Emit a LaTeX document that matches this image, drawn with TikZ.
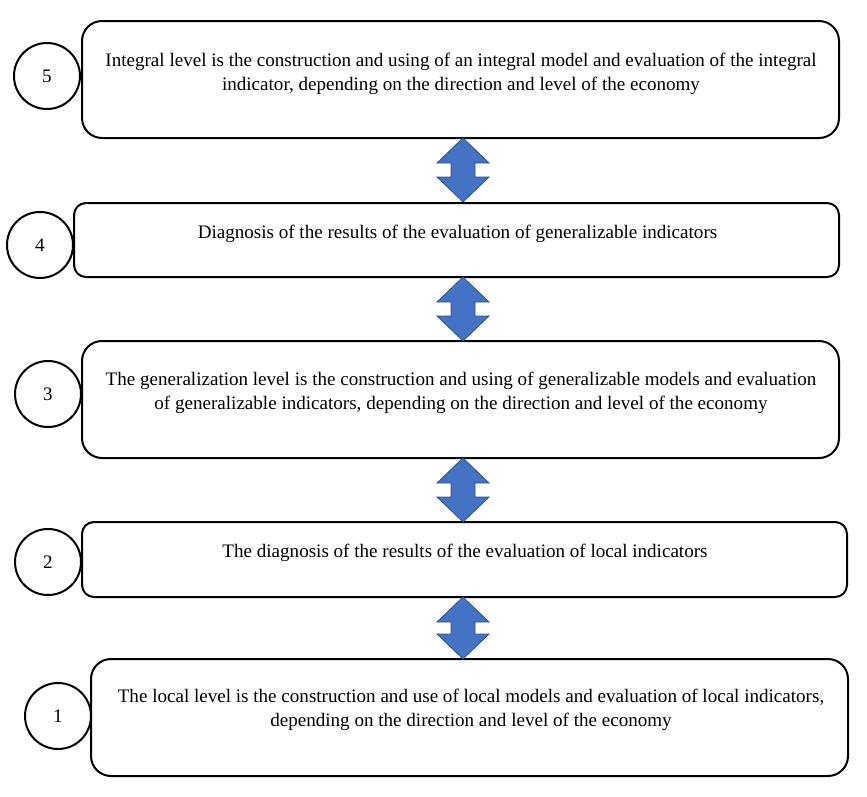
\documentclass[tikz,border=0pt]{standalone}
\usepackage{fontspec}
\setmainfont{Liberation Serif}
\definecolor{arrfill}{HTML}{4472C4}
\definecolor{arrline}{HTML}{2F528F}
\newcommand\dblarw[2]{%
  \filldraw[arrst] (463,#1) -- (489,#1+25) -- (475,#1+25) -- (475,#2-25) -- (489,#2-25) -- (463,#2)
    -- (437,#2-25) -- (451,#2-25) -- (451,#1+25) -- (437,#1+25) -- cycle;}
\begin{document}
\begin{tikzpicture}[x=0.75pt,y=-0.75pt,
  bigbox/.style={draw,line width=1.5pt,rounded corners=15pt,minimum width=567.75pt,minimum height=87.75pt,inner sep=0pt},
  smallbox/.style={draw,line width=1.5pt,rounded corners=9pt,minimum height=55.5pt,inner sep=0pt},
  numc/.style={draw,circle,line width=1.5pt,minimum size=49.5pt,inner sep=0pt,font=\fontsize{14.3}{16}\selectfont},
  txt/.style={align=center,font=\fontsize{14.3}{18.2}\selectfont,inner sep=0pt},
  arrst/.style={fill=arrfill,draw=arrline,line width=0.6pt}]
\useasboundingbox (0,0) rectangle (867,796);
% boxes
\node[bigbox] (b5) at (460.5,79.5) {};
\node[smallbox,minimum width=573.75pt] (b4) at (456.5,240) {};
\node[bigbox] (b3) at (460.5,399.5) {};
\node[smallbox,minimum width=573.75pt,minimum height=56.25pt] (b2) at (464.5,559.5) {};
\node[bigbox] (b1) at (469.5,717.5) {};
% texts
\node[txt] (t5) at (461,73.5) {Integral level is the construction and using of an integral model and evaluation of the integral\\indicator, depending on the direction and level of the economy};
\node[txt] (t4) at (457.5,234) {Diagnosis of the results of the evaluation of generalizable indicators};
\node[txt] (t3) at (461,393) {The generalization level is the construction and using of generalizable models and evaluation\\of generalizable indicators, depending on the direction and level of the economy};
\node[txt] (t2) at (465,553) {The diagnosis of the results of the evaluation of local indicators};
\node[txt] (t1) at (471,710) {The local level is the construction and use of local models and evaluation of local indicators,\\depending on the direction and level of the economy};
% circles
\node[numc] (c5) at (47,76) {5};
\node[numc] (c4) at (40,245) {4};
\node[numc] (c3) at (48,394) {3};
\node[numc] (c2) at (48,562) {2};
\node[numc] (c1) at (58,716) {1};
% double arrows
\dblarw{138}{202}
\dblarw{277}{341}
\dblarw{458}{522}
\dblarw{597}{659}
\end{tikzpicture}
\end{document}
